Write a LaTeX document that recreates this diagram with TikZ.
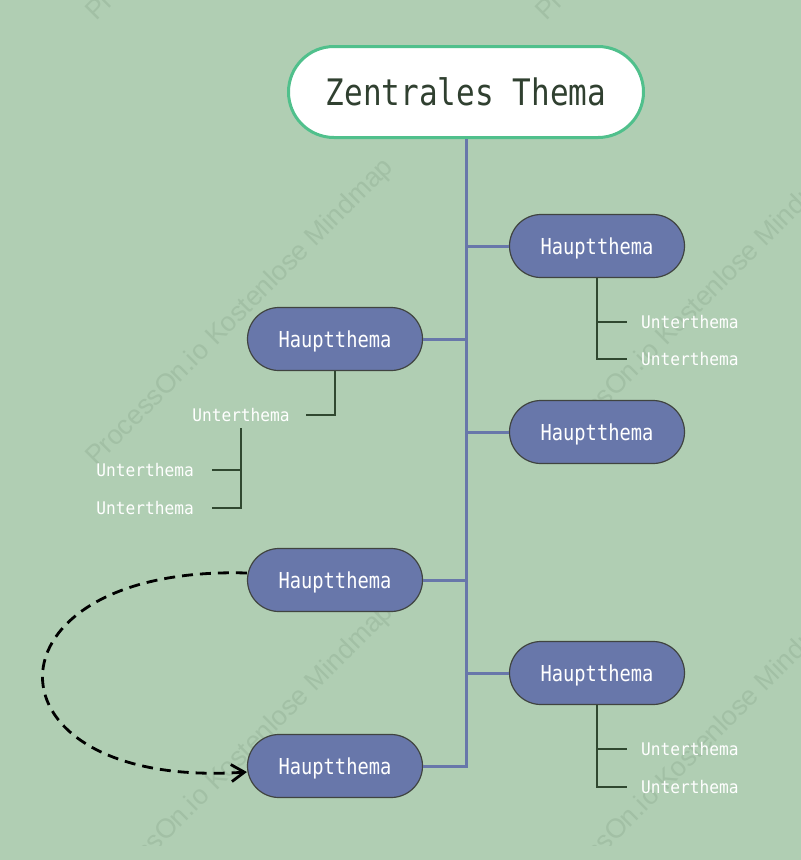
\documentclass[tikz,border=0pt]{standalone}
\usepackage{fontspec}
\usetikzlibrary{shapes.misc,arrows.meta,calc}
\newfontfamily\ctfont[FakeStretch=0.85]{DejaVu Sans Mono}
\newfontfamily\htfont[FakeStretch=0.85]{DejaVu Sans Mono}
\newfontfamily\utfont[FakeStretch=0.93]{DejaVu Sans Mono}
\newfontfamily\wmfont{Liberation Sans}
\definecolor{bg}{RGB}{176,206,179}
\definecolor{cborder}{RGB}{80,192,140}
\definecolor{ctext}{RGB}{48,64,48}
\definecolor{hfill}{RGB}{104,119,170}
\definecolor{hborder}{RGB}{64,68,64}
\definecolor{tcol}{RGB}{104,119,170}
\definecolor{scol}{RGB}{48,72,48}
\definecolor{wmcol}{RGB}{162,192,165}
\begin{document}
\begin{tikzpicture}[x=1pt,y=-1pt,
  central/.style={rounded rectangle, draw=cborder, line width=3pt, fill=white,
    minimum width=355pt, minimum height=91pt, inner sep=0pt, text=ctext,
    font=\ctfont\fontsize{36.5}{40}\selectfont, text height=26.6pt, text depth=0pt},
  haupt/.style={rounded rectangle, draw=hborder, line width=1.2pt, fill=hfill,
    minimum width=175pt, minimum height=63pt, inner sep=0pt, text=white,
    font=\htfont\fontsize{22}{24}\selectfont, text height=16pt, text depth=0pt},
  unter/.style={inner ysep=6.5pt, text=white,
    font=\utfont\fontsize{17.4}{20}\selectfont, text height=12.7pt, text depth=0pt},
  trunk/.style={draw=tcol, line width=3pt},
  sub/.style={draw=scol, line width=1.5pt},
  rel/.style={draw=black, line width=2.8pt, dash pattern=on 11pt off 7pt,
    -{Straight Barb[length=13pt,width=17pt]}},
  wm/.style={text=wmcol, font=\wmfont\fontsize{27}{30}\selectfont, inner sep=0pt,
    rotate=45, anchor=base west}
]
\fill[bg] (0,0) rectangle (801,860);
\useasboundingbox (0,0) rectangle (801,860);

% watermarks
\begin{scope}
\clip (0,0) rectangle (801,845);
\foreach \wx in {96,546} {
  \foreach \wy in {22,467,912} {
    \node[wm] at (\wx,\wy) {ProcessOn.io Kostenlose Mindmap};
  }
}
\end{scope}

% nodes
\node[central] (c) at (466,92) {Zentrales Thema};
\node[haupt] (h1) at (597,246) {Hauptthema};
\node[haupt] (h2) at (335,339) {Hauptthema};
\node[haupt] (h3) at (597,432) {Hauptthema};
\node[haupt] (h4) at (335,580) {Hauptthema};
\node[haupt] (h5) at (597,673) {Hauptthema};
\node[haupt] (h6) at (335,766) {Hauptthema};

\node[unter, inner xsep=14pt, anchor=west] (u1) at (627,322) {Unterthema};
\node[unter, inner xsep=14pt, anchor=west] (u2) at (627,359) {Unterthema};
\node[unter, inner xsep=14pt, anchor=west] (u3) at (627,749) {Unterthema};
\node[unter, inner xsep=14pt, anchor=west] (u4) at (627,787) {Unterthema};
\node[unter, inner xsep=16.5pt] (ul1) at (241,415) {Unterthema};
\node[unter, inner xsep=18pt, anchor=east] (ul2) at (212,470) {Unterthema};
\node[unter, inner xsep=18pt, anchor=east] (ul3) at (212,508) {Unterthema};

% trunk and branches
\draw[trunk] (c.south) |- (h6.east);
\draw[trunk] (c.south |- h1.west) -- (h1.west);
\draw[trunk] (c.south |- h2.east) -- (h2.east);
\draw[trunk] (c.south |- h3.west) -- (h3.west);
\draw[trunk] (c.south |- h4.east) -- (h4.east);
\draw[trunk] (c.south |- h5.west) -- (h5.west);

% sub topics
\draw[sub] (h1.south) |- (u1.west);
\draw[sub] (h1.south) |- (u2.west);
\draw[sub] (h5.south) |- (u3.west);
\draw[sub] (h5.south) |- (u4.west);
\draw[sub] (h2.south) |- (ul1.east);
\draw[sub] (ul1.south) |- (ul2.east);
\draw[sub] (ul1.south) |- (ul3.east);

% relation
\draw[rel] ($(h4.west)+(0,-7)$) .. controls (-25,565) and (-25,790) .. ($(h6.west)+(0,6)$);
\end{tikzpicture}
\end{document}
